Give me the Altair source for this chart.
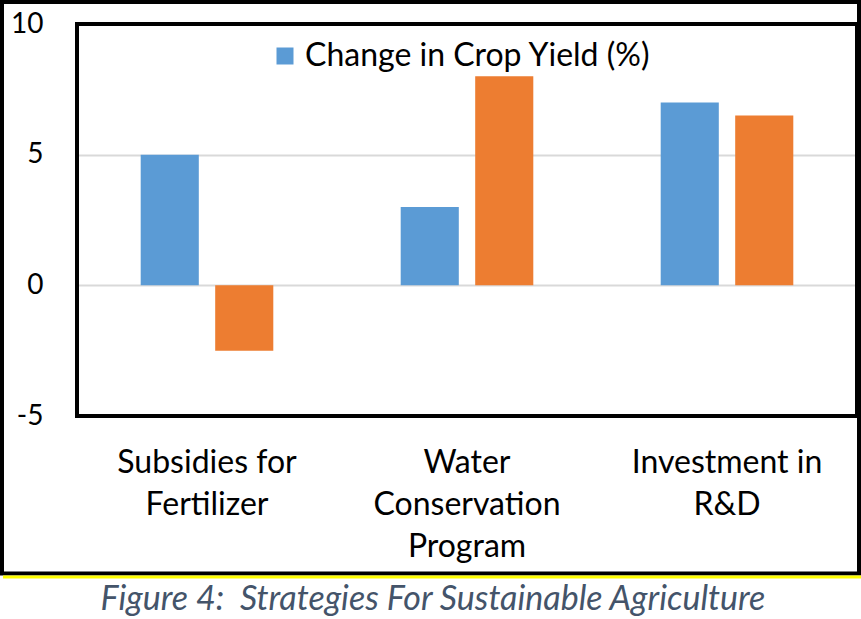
import altair as alt
import pandas as pd

categories = ["Subsidies for Fertilizer", "Water Conservation Program", "Investment in R&D"]
label_lines = [["Subsidies for", "Fertilizer"], ["Water", "Conservation", "Program"], ["Investment in", "R&D"]]
series_names = ["Change in Crop Yield (%)", "Series 2"]
blue_values = [5, 3, 7]
orange_values = [-2.5, 8, 6.5]
y_ticks = [-5, 0, 5, 10]
title_text = "Figure 4:\u00a0 Strategies For Sustainable Agriculture"

rows = []
for c, b, o in zip(categories, blue_values, orange_values):
    rows.append({"Strategy": c, "Series": series_names[0], "Value": b})
    rows.append({"Strategy": c, "Series": series_names[1], "Value": o})
df = pd.DataFrame(rows)

expr = "''"
for c, lines in reversed(list(zip(categories, label_lines))):
    arr = "[" + ",".join("'" + l + "'" for l in lines) + "]"
    expr = f"datum.label == '{c}' ? {arr} : ({expr})"

FONT = "Lato"
W, H = 780, 392

bars = alt.Chart(df).mark_bar().encode(
    x=alt.X("Strategy:N", sort=categories,
            scale=alt.Scale(paddingInner=0.49, paddingOuter=0.245),
            axis=alt.Axis(title=None, labelExpr=expr, labelAngle=0, ticks=False, domain=False,
                          labelFont=FONT, labelFontSize=32, labelColor="black",
                          labelLineHeight=42, labelPadding=31, labelBaseline="top",
                          labelLimit=400)),
    xOffset=alt.XOffset("Series:N", sort=series_names,
                        scale=alt.Scale(paddingInner=0.22, paddingOuter=0)),
    y=alt.Y("Value:Q", scale=alt.Scale(domain=[-5, 10], nice=False),
            axis=alt.Axis(title=None, values=y_ticks, ticks=False, domain=False,
                          labelExpr="datum.value + ''",
                          labelFont=FONT, labelFontSize=28, labelColor="black",
                          labelPadding=34, gridColor="#D9D9D9", gridWidth=2)),
    color=alt.Color("Series:N", sort=series_names,
                    scale=alt.Scale(domain=series_names, range=["#5B9BD5", "#ED7D31"]),
                    legend=alt.Legend(title=None, values=[series_names[0]], orient="none",
                                      legendX=192, legendY=16, symbolType="square",
                                      symbolSize=289, symbolStrokeWidth=0, labelFont=FONT,
                                      labelFontSize=32, labelColor="black", labelOffset=4,
                                      labelLimit=600)),
)

one = alt.Data(values=[{"k": 0}])

inner = alt.Chart(one).mark_rect(
    fill="transparent", stroke="black", strokeWidth=4
).encode(x=alt.value(0), x2=alt.value(W), y=alt.value(0), y2=alt.value(H))

frame = alt.Chart(one).mark_rect(
    fill="transparent", stroke="black", strokeWidth=4
).encode(x=alt.value(-75), x2=alt.value(782), y=alt.value(-22), y2=alt.value(549.5))

yellow = alt.Chart(one).mark_rule(
    color="#FFFF00", strokeWidth=3
).encode(x=alt.value(-74), x2=alt.value(784), y=alt.value(553))

chart = alt.layer(bars, inner, frame, yellow).properties(
    width=W, height=H,
    background="white",
    autosize=alt.AutoSizeParams(type="none"),
    padding={"left": 77, "top": 24, "right": 4, "bottom": 203},
    title=alt.TitleParams(title_text, orient="bottom", anchor="middle", font=FONT,
                          fontSize=34, fontStyle="italic", fontWeight="normal",
                          color="#44546A", offset=4, dx=-34),
).configure_view(strokeWidth=0)

chart.save("out.html", embed_options={"renderer": "svg", "actions": False})
